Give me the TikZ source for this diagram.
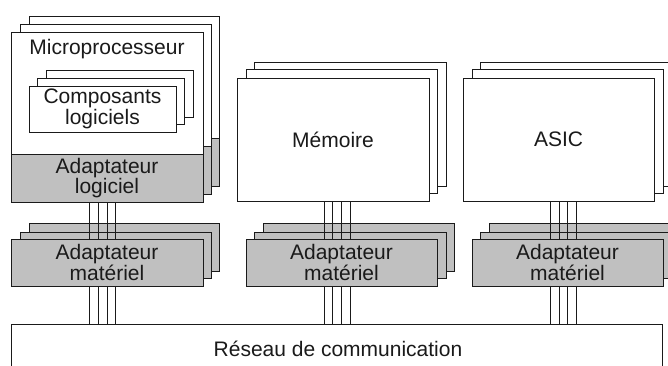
\documentclass[tikz,border=0pt]{standalone}
\usepackage{fontspec}
\setmainfont{Liberation Sans}
\definecolor{adgray}{HTML}{C0C0C0}
\definecolor{ink}{HTML}{1A1A1A}
\tikzset{
  box/.style={draw=ink, line width=0.9pt, fill=white, inner sep=0pt, outer sep=0pt, anchor=north west},
  gbox/.style={box, fill=adgray},
  lbl/.style={font=\fontsize{21}{18}\selectfont, align=center, inner sep=0pt, text=ink},
  wire/.style={draw=ink, line width=0.9pt}
}
% \bx{style}{name}{x1}{y1}{x2}{y2}{text}
\newcommand\bx[7]{\node[#1, minimum width={#5pt-#3pt}, minimum height={#6pt-#4pt}] (#2) at (#3,#4) {};
  \node[lbl] (#2t) at (#2.center) {#7};}
\begin{document}
\begin{tikzpicture}[x=1pt, y=-1pt]
\useasboundingbox (0,0) rectangle (668,365);
% Microprocessor stack
\bx{box}{mp3}{29}{16}{219}{186}{}
\bx{gbox}{mp3g}{29}{138}{219}{186}{}
\bx{box}{mp2}{20}{24}{211}{194}{}
\bx{gbox}{mp2g}{20}{146}{211}{194}{}
\bx{box}{mp}{11}{32}{203}{154}{}
\bx{gbox}{mpl}{11}{154}{203}{202}{Adaptateur\\logiciel}
\node[lbl] (mptxt) at (107,49) {Microprocesseur};
% Composants logiciels
\bx{box}{cl3}{46}{70}{193}{117}{}
\bx{box}{cl2}{37}{78}{184}{124}{}
\bx{box}{cl}{29}{86}{176}{132}{Composants\\logiciels}
% Memory stack
\bx{box}{mem3}{254}{62}{446}{186}{}
\bx{box}{mem2}{246}{69}{437}{193}{}
\bx{box}{mem}{237}{78}{429}{201}{M\'emoire}
% ASIC stack
\bx{box}{asic3}{480}{62}{671}{186}{}
\bx{box}{asic2}{472}{69}{663}{193}{}
\bx{box}{asic}{463}{78}{654}{201}{ASIC}
% back adapters
\bx{gbox}{ha3}{29}{223}{219}{271}{}
\bx{gbox}{ha2}{20}{232}{211}{278}{}
\bx{gbox}{hb3}{263}{223}{454}{271}{}
\bx{gbox}{hb2}{254}{232}{446}{278}{}
\bx{gbox}{hc3}{489}{223}{680}{271}{}
\bx{gbox}{hc2}{480}{232}{671}{278}{}
% network
\bx{box}{net}{11}{324}{662}{385}{}
\node[lbl] (nettxt) at (338,349) {R\'eseau de communication};
% wires
\foreach \wx in {89,98,107,115}{\coordinate (w) at (\wx,0); \draw[wire] (mpl.south -| w) -- (net.north -| w);}
\foreach \wx in {324,332,341,350}{\coordinate (w) at (\wx,0); \draw[wire] (mem.south -| w) -- (net.north -| w);}
\foreach \wx in {550,559,567,576}{\coordinate (w) at (\wx,0); \draw[wire] (asic.south -| w) -- (net.north -| w);}
% front adapters
\bx{gbox}{ha}{11}{239}{203}{286}{Adaptateur\\mat\'eriel}
\bx{gbox}{hb}{246}{239}{437}{286}{Adaptateur\\mat\'eriel}
\bx{gbox}{hc}{472}{239}{663}{286}{Adaptateur\\mat\'eriel}
\end{tikzpicture}
\end{document}
